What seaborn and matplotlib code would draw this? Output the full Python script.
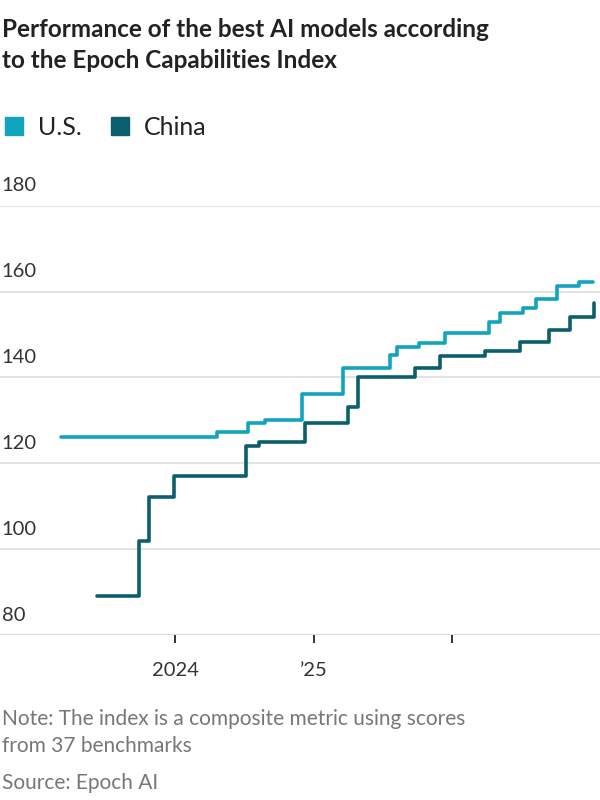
import matplotlib
matplotlib.use("Agg")
import matplotlib.pyplot as plt
import matplotlib.transforms as mtransforms
import pandas as pd
import seaborn as sns

# step series, x in decimal years
us_x = [2023.18, 2024.30, 2024.53, 2024.65, 2024.92, 2025.21, 2025.55, 2025.60,
        2025.76, 2025.95, 2026.27, 2026.35, 2026.51, 2026.61, 2026.76, 2026.92, 2027.02]
us_y = [126.2, 127.3, 129.4, 130.1, 136.2, 142.2, 145.2, 147.1,
        148.1, 150.4, 153.0, 155.1, 156.2, 158.3, 161.4, 162.3, 162.3]
cn_x = [2023.44, 2023.74, 2023.81, 2023.99, 2024.51, 2024.61, 2024.94, 2025.25,
        2025.32, 2025.73, 2025.91, 2026.24, 2026.49, 2026.70, 2026.85, 2027.02, 2027.025]
cn_y = [89.1, 101.9, 112.2, 117.1, 124.1, 125.0, 129.4, 133.2,
        140.1, 142.2, 145.0, 146.2, 148.3, 151.1, 154.1, 154.1, 157.4]
yticks = [80, 100, 120, 140, 160, 180]
xticks = [2024, 2025, 2026]
xlabels = ["2024", "\u201925", ""]

US_C = "#12a4bf"
CN_C = "#0b5f6d"

sns.set_style("white")
plt.rcParams["font.family"] = ["Lato", "DejaVu Sans"]

df = pd.concat([
    pd.DataFrame({"year": us_x, "score": us_y, "country": "U.S."}),
    pd.DataFrame({"year": cn_x, "score": cn_y, "country": "China"}),
])

fig = plt.figure(figsize=(6, 8), dpi=100)
ax = fig.add_axes([0, 0.206, 1, 0.537])
sns.lineplot(data=df, x="year", y="score", hue="country",
             palette={"U.S.": US_C, "China": CN_C}, drawstyle="steps-post",
             linewidth=2.6, legend=False, ax=ax, estimator=None, sort=False)
ax.set_xlim(2022.736, 2027.069)
ax.set_ylim(80, 180)
for s in ax.spines.values():
    s.set_visible(False)
ax.set_yticks(yticks)
ax.set_yticklabels([])
ax.tick_params(axis="y", length=0)
ax.grid(axis="y", color="#dddddd", linewidth=1.2)
ax.set_axisbelow(True)
ax.axhline(80, color="#d0d0d0", linewidth=1.5, zorder=0)
trans = mtransforms.blended_transform_factory(ax.transAxes, ax.transData)
for v in yticks:
    ax.text(0.003, v + 2.6, str(v), transform=trans, fontsize=14.5, color="#333333",
            va="bottom", ha="left")
ax.set_xticks(xticks)
ax.set_xticklabels(xlabels, fontsize=14.5, color="#333333")
ax.tick_params(axis="x", bottom=True, length=6, width=1.4, color="#333333",
               direction="out", pad=13)
ax.set_xlabel("")
ax.set_ylabel("")

fig.text(0.003, 0.977, "Performance of the best AI models according\nto the Epoch Capabilities Index",
         fontsize=17.5, fontweight="bold", color="#222222", va="top", ha="left", linespacing=1.4)

# legend
fig.patches.append(plt.Rectangle((0.008, 0.831), 0.03, 0.0225, color=US_C, transform=fig.transFigure))
fig.text(0.063, 0.841, "U.S.", fontsize=18, color="#222222", va="center")
fig.patches.append(plt.Rectangle((0.185, 0.831), 0.03, 0.0225, color=CN_C, transform=fig.transFigure))
fig.text(0.24, 0.841, "China", fontsize=18, color="#222222", va="center")

fig.text(0.003, 0.084, "Note: The index is a composite metric using scores\nfrom 37 benchmarks",
         fontsize=15, color="#777777", va="center", ha="left", linespacing=1.45)
fig.text(0.003, 0.021, "Source: Epoch AI", fontsize=15, color="#777777", va="center", ha="left")

fig.savefig("out.png", dpi=100)
